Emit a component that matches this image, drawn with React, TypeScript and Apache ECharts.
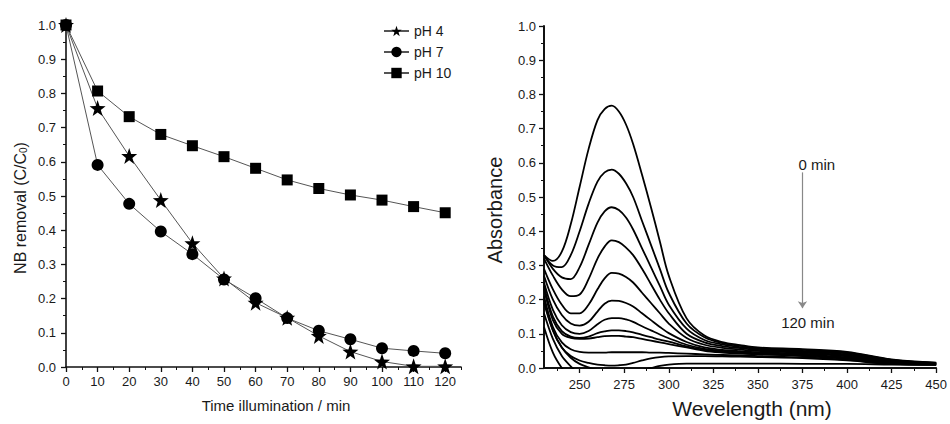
import React, { useEffect, useRef } from 'react';
import * as echarts from 'echarts';

// ---------- Left panel: NB removal vs time ----------
const TIME_MIN = [0, 10, 20, 30, 40, 50, 60, 70, 80, 90, 100, 110, 120];
const PH4 = [1.0, 0.757, 0.617, 0.488, 0.362, 0.259, 0.188, 0.144, 0.091, 0.045, 0.016, 0.002, 0.002];
const PH7 = [1.0, 0.591, 0.477, 0.396, 0.33, 0.256, 0.201, 0.143, 0.106, 0.081, 0.055, 0.047, 0.04];
const PH10 = [1.0, 0.807, 0.732, 0.68, 0.647, 0.615, 0.581, 0.547, 0.522, 0.503, 0.488, 0.469, 0.451];
const SERIES_NAMES = ['pH 4', 'pH 7', 'pH 10'];
const TIME_TICKS = [0, 10, 20, 30, 40, 50, 60, 70, 80, 90, 100, 110, 120];
const TIME_MINOR_TICKS = [5, 15, 25, 35, 45, 55, 65, 75, 85, 95, 105, 115, 125];

// ---------- Right panel: UV-vis spectra ----------
const WAVELENGTH = [230, 235, 240, 245, 250, 255, 260, 264, 268, 272, 276, 280, 285, 290, 295, 300, 310, 320, 330, 340, 350, 375, 400, 425, 450];
const SPEC_01 = [0.33, 0.313, 0.34, 0.42, 0.53, 0.64, 0.725, 0.757, 0.767, 0.75, 0.712, 0.655, 0.565, 0.47, 0.37, 0.27, 0.145, 0.095, 0.076, 0.067, 0.06, 0.055, 0.047, 0.025, 0.016];
const SPEC_02 = [0.33, 0.3, 0.295, 0.33, 0.4, 0.48, 0.545, 0.572, 0.58, 0.568, 0.54, 0.5, 0.43, 0.36, 0.29, 0.22, 0.13, 0.09, 0.073, 0.065, 0.058, 0.053, 0.045, 0.024, 0.015];
const SPEC_03 = [0.33, 0.29, 0.265, 0.26, 0.295, 0.36, 0.425, 0.458, 0.47, 0.462, 0.44, 0.405, 0.35, 0.295, 0.24, 0.185, 0.115, 0.082, 0.069, 0.061, 0.056, 0.05, 0.043, 0.023, 0.015];
const SPEC_04 = [0.32, 0.27, 0.23, 0.21, 0.215, 0.26, 0.32, 0.355, 0.373, 0.368, 0.352, 0.33, 0.29, 0.245, 0.2, 0.16, 0.1, 0.075, 0.064, 0.058, 0.053, 0.048, 0.04, 0.022, 0.014];
const SPEC_05 = [0.29, 0.23, 0.185, 0.16, 0.16, 0.185, 0.23, 0.262, 0.278, 0.276, 0.266, 0.25, 0.22, 0.19, 0.16, 0.13, 0.088, 0.068, 0.059, 0.054, 0.05, 0.045, 0.037, 0.02, 0.013];
const SPEC_06 = [0.27, 0.2, 0.155, 0.13, 0.124, 0.135, 0.165, 0.188, 0.197, 0.196, 0.19, 0.18, 0.16, 0.14, 0.12, 0.102, 0.076, 0.06, 0.053, 0.049, 0.046, 0.042, 0.034, 0.019, 0.012];
const SPEC_07 = [0.25, 0.17, 0.125, 0.105, 0.1, 0.108, 0.128, 0.141, 0.146, 0.146, 0.142, 0.135, 0.122, 0.11, 0.098, 0.087, 0.068, 0.056, 0.05, 0.046, 0.043, 0.039, 0.031, 0.018, 0.012];
const SPEC_08 = [0.24, 0.15, 0.108, 0.092, 0.088, 0.092, 0.102, 0.107, 0.11, 0.11, 0.108, 0.104, 0.097, 0.09, 0.083, 0.077, 0.063, 0.053, 0.047, 0.044, 0.041, 0.037, 0.029, 0.016, 0.011];
const SPEC_09 = [0.23, 0.14, 0.1, 0.088, 0.085, 0.086, 0.09, 0.093, 0.094, 0.094, 0.092, 0.09, 0.085, 0.08, 0.075, 0.07, 0.06, 0.05, 0.045, 0.042, 0.04, 0.035, 0.027, 0.015, 0.011];
const SPEC_10 = [0.21, 0.12, 0.075, 0.055, 0.047, 0.045, 0.045, 0.045, 0.046, 0.046, 0.046, 0.046, 0.046, 0.045, 0.045, 0.044, 0.042, 0.04, 0.038, 0.037, 0.035, 0.031, 0.024, 0.013, 0.01];
const SPEC_11 = [0.2, 0.11, 0.06, 0.035, 0.022, 0.015, 0.01, 0.008, 0.007, 0.008, 0.01, 0.015, 0.022, 0.028, 0.032, 0.034, 0.035, 0.035, 0.034, 0.033, 0.032, 0.029, 0.022, 0.012, 0.01];
const SPEC_12 = [0.19, 0.11, 0.06, 0.03, 0.012, 0.002, -0.006, -0.01, -0.012, -0.012, -0.011, -0.01, -0.006, 0.0, 0.006, 0.01, 0.013, 0.013, 0.013, 0.013, 0.013, 0.012, 0.012, 0.01, 0.009];
const SPEC_13 = [0.16, 0.085, 0.035, 0.005, -0.02];
const SPEC_14 = [0.12, 0.045, 0.0, -0.03];
const SPECTRA = [SPEC_01, SPEC_02, SPEC_03, SPEC_04, SPEC_05, SPEC_06, SPEC_07, SPEC_08, SPEC_09, SPEC_10, SPEC_11, SPEC_12, SPEC_13, SPEC_14];
const WL_TICKS = [250, 275, 300, 325, 350, 375, 400, 425, 450];
const WL_MINOR_TICKS = [237.5, 262.5, 287.5, 312.5, 337.5, 362.5, 387.5, 412.5, 437.5];

// annotation (data coordinates)
const ARROW_WL = 375;
const ARROW_FROM = 0.572;
const ARROW_TO = 0.175;
const LABEL_START = { text: '0 min', wl: 383, abs: 0.595 };
const LABEL_END = { text: '120 min', wl: 378, abs: 0.132 };

const STAR = 'path://M0,-10L2.35,-3.24L9.51,-3.09L3.8,1.24L5.88,8.09L0,4L-5.88,8.09L-3.8,1.24L-9.51,-3.09L-2.35,-3.24Z';
const FONT = '"Liberation Sans", Arial, sans-serif';
const TXT = '#1a1a1a';

export default function App() {
  const ref = useRef<HTMLDivElement>(null);

  useEffect(() => {
    const chart = echarts.init(ref.current!, null, { renderer: 'svg' });

    const axisLineL = { show: true, onZero: false, lineStyle: { color: '#111', width: 1.6 } };
    const axisLineR = { show: true, onZero: false, lineStyle: { color: '#111', width: 2 } };
    const tickMajor = { show: true, length: 5, lineStyle: { color: '#111', width: 1.3 } };
    const labelStyle = { fontSize: 13, color: TXT, fontFamily: FONT };

    const pts = (xs: number[], ys: (number | null)[]) =>
      ys.map((y, i) => [xs[i], y]).filter((p) => p[1] != null);

    const leftSeries = [
      { name: SERIES_NAMES[0], data: pts(TIME_MIN, PH4), symbol: STAR, symbolSize: 16 },
      { name: SERIES_NAMES[1], data: pts(TIME_MIN, PH7), symbol: 'circle', symbolSize: 12 },
      { name: SERIES_NAMES[2], data: pts(TIME_MIN, PH10), symbol: 'rect', symbolSize: 11 },
    ].map((s) => ({
      ...s,
      type: 'line',
      xAxisIndex: 0,
      yAxisIndex: 0,
      showSymbol: true,
      lineStyle: { color: '#555', width: 1 },
      itemStyle: { color: '#000' },
      z: 3,
    }));

    const spectraSeries = SPECTRA.map((arr, i) => {
      const s: any = {
        name: 'spec' + i,
        type: 'line',
        xAxisIndex: 2,
        yAxisIndex: 1,
        data: pts(WAVELENGTH, arr),
        showSymbol: false,
        smooth: 0.35,
        clip: true,
        lineStyle: { color: '#000', width: 1.8 },
        itemStyle: { color: '#000' },
      };
      if (i === 0) {
        s.markLine = {
          silent: true,
          symbol: ['none', 'arrow'],
          symbolSize: 7,
          lineStyle: { color: '#888', width: 1.2, type: 'solid' },
          itemStyle: { color: '#555' },
          label: { show: false },
          data: [[{ coord: [ARROW_WL, ARROW_FROM] }, { coord: [ARROW_WL, ARROW_TO] }]],
        };
        s.markPoint = {
          silent: true,
          symbol: 'circle',
          symbolSize: 0,
          itemStyle: { color: 'transparent' },
          label: { show: true, position: 'inside', fontSize: 15, color: TXT, fontFamily: FONT },
          data: [LABEL_START, LABEL_END].map((l) => ({
            coord: [l.wl, l.abs],
            label: { formatter: l.text },
          })),
        };
      }
      return s;
    });

    const option: any = {
      animation: false,
      backgroundColor: '#fff',
      textStyle: { fontFamily: FONT },
      legend: {
        data: SERIES_NAMES,
        orient: 'vertical',
        left: 378,
        top: 19,
        itemWidth: 25,
        itemHeight: 13,
        itemGap: 7,
        textStyle: { fontSize: 14, color: TXT, fontFamily: FONT },
      },
      grid: [
        { left: 66, top: 25, width: 395, height: 342 },
        { left: 544, top: 26, width: 393, height: 343 },
      ],
      xAxis: [
        {
          type: 'value', gridIndex: 0, position: 'bottom', min: 0, max: 125,
          axisLine: axisLineL,
          axisTick: { ...tickMajor, customValues: TIME_TICKS },
          axisLabel: { ...labelStyle, margin: 8, customValues: TIME_TICKS },
          splitLine: { show: false },
          name: 'Time illumination / min', nameLocation: 'middle', nameGap: 31,
          nameTextStyle: { fontSize: 15, color: TXT, fontFamily: FONT, padding: [0, 0, 0, 25] },
        },
        {
          type: 'value', gridIndex: 0, position: 'bottom', min: 0, max: 125,
          axisLine: { show: false },
          axisTick: { show: true, length: 3, customValues: TIME_MINOR_TICKS, lineStyle: { color: '#111', width: 1 } },
          axisLabel: { show: false },
          splitLine: { show: false },
        },
        {
          type: 'value', gridIndex: 1, position: 'bottom', min: 230, max: 450,
          axisLine: axisLineR,
          axisTick: { ...tickMajor, customValues: WL_TICKS },
          axisLabel: { ...labelStyle, margin: 10, customValues: WL_TICKS },
          splitLine: { show: false },
          name: 'Wevelength (nm)', nameLocation: 'middle', nameGap: 30,
          nameTextStyle: { fontSize: 21, color: TXT, fontFamily: FONT, padding: [0, 0, 0, 24] },
        },
        {
          type: 'value', gridIndex: 1, position: 'bottom', min: 230, max: 450,
          axisLine: { show: false },
          axisTick: { show: true, length: 3, customValues: WL_MINOR_TICKS, lineStyle: { color: '#111', width: 1 } },
          axisLabel: { show: false },
          splitLine: { show: false },
        },
      ],
      yAxis: [
        {
          type: 'value', gridIndex: 0, min: 0, max: 1, interval: 0.1,
          axisLine: axisLineL,
          axisTick: tickMajor,
          minorTick: { show: true, splitNumber: 2, length: 3, lineStyle: { color: '#111', width: 1 } },
          axisLabel: { ...labelStyle, margin: 10, formatter: (v: number) => v.toFixed(1) },
          splitLine: { show: false },
          minorSplitLine: { show: false },
          name: '{a|NB removal (C/C}{s|0}{a|)}', nameLocation: 'middle', nameGap: 38, nameRotate: 90,
          nameTextStyle: {
            padding: [0, 24, 0, 0],
            rich: {
              a: { fontSize: 16, color: TXT, fontFamily: FONT },
              s: { fontSize: 10, color: TXT, fontFamily: FONT, verticalAlign: 'bottom', padding: [6, 0, 0, 0] },
            },
          },
        },
        {
          type: 'value', gridIndex: 1, min: 0, max: 1, interval: 0.1,
          axisLine: axisLineR,
          axisTick: tickMajor,
          minorTick: { show: true, splitNumber: 2, length: 3, lineStyle: { color: '#111', width: 1 } },
          axisLabel: { ...labelStyle, margin: 8, formatter: (v: number) => v.toFixed(1) },
          splitLine: { show: false },
          minorSplitLine: { show: false },
          name: 'Absorbance', nameLocation: 'middle', nameGap: 39, nameRotate: 90,
          nameTextStyle: { fontSize: 20, color: TXT, fontFamily: FONT, padding: [0, 26, 0, 0] },
        },
      ],
      series: [...leftSeries, ...spectraSeries],
    };

    chart.setOption(option);
    return () => chart.dispose();
  }, []);

  return (
    <div
      ref={ref}
      style={{ position: 'fixed', left: 0, top: 0, width: 950, height: 424, background: '#fff' }}
    />
  );
}
